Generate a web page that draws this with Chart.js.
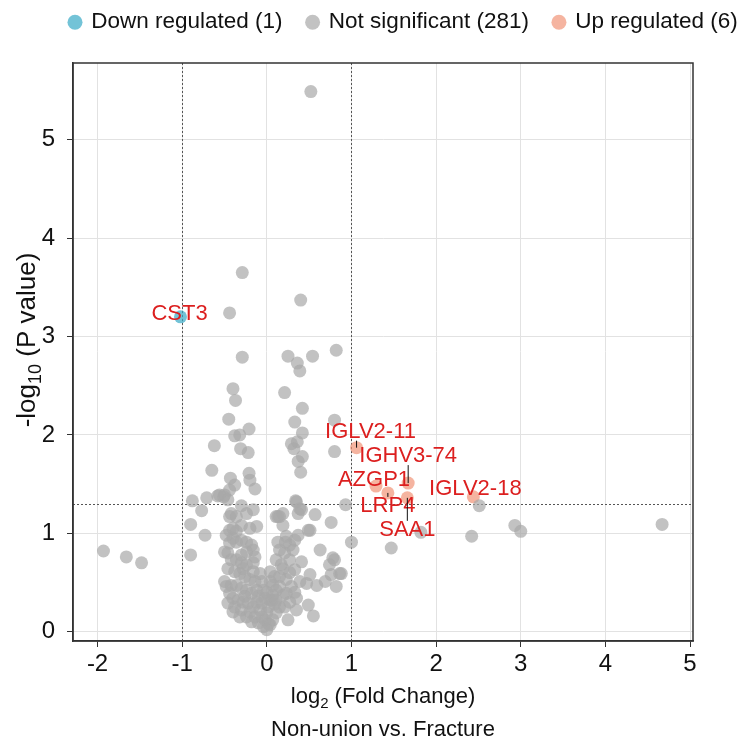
<!DOCTYPE html>
<html>
<head>
<meta charset="utf-8">
<script src="https://cdn.jsdelivr.net/npm/chart.js@4.4.1/dist/chart.umd.min.js"></script>
<style>
  html, body { margin: 0; padding: 0; background: #fff; }
</style>
</head>
<body>
<canvas id="volcano" width="741" height="746"></canvas>
<script>
// not significant proteins (log2 FC, -log10 p)
let nsX = [0.52,-0.29,-0.44,0.40,-0.29,0.25,0.36,0.54,0.39,0.82,
  -0.40,-0.37,0.21,0.42,-0.45,0.33,0.80,-0.21,0.42,-0.38,
  -0.32,-0.62,0.29,0.36,0.32,-0.31,-0.22,0.80,0.42,0.37,
  0.40,-0.65,-0.21,-0.20,-0.43,-0.38,-0.14,-0.44,-0.58,-0.51,
  -0.71,-0.88,-0.46,0.34,0.93,-0.30,-0.16,-0.77,-0.42,0.19,
  0.41,0.11,0.57,-0.90,-0.73,-0.90,-0.44,-0.24,-0.12,-0.40,
  0.15,0.19,0.37,0.76,1.00,0.23,0.37,0.51,0.63,0.78,
  0.86,0.74,0.76,0.69,0.82,0.51,0.47,0.59,0.49,0.55,
  0.35,0.25,0.41,0.33,0.39,0.23,0.35,0.21,0.15,0.11,
  0.06,0.04,0.15,0.21,0.27,0.11,0.17,0.22,0.27,0.33,
  -0.40,-0.44,-0.46,-0.42,-0.46,-0.36,-0.30,-0.24,-0.18,-0.16,
  -0.14,-0.16,-0.24,-0.30,-0.36,-0.30,-0.24,-0.38,-0.32,-0.26,
  -0.20,-0.48,-0.42,-0.36,-0.30,-0.24,-0.18,-0.40,-0.34,-0.28,
  -0.22,-0.16,-0.38,-0.30,-0.40,-0.32,-0.24,-0.14,-0.18,-0.10,
  -0.04,0.00,0.04,0.07,0.11,0.15,-0.02,-0.08,-0.06,-0.10,
  -0.12,-0.14,-0.16,0.00,0.02,0.04,0.07,-0.02,-0.04,-0.06,
  -0.08,0.04,0.07,0.09,0.15,0.19,0.11,0.19,0.23,0.29,
  0.31,0.13,-0.50,-0.48,-0.44,-0.36,-0.30,-0.20,-0.36,-0.46,
  -0.44,-0.50,-1.93,-1.66,-1.48,1.47,1.82,2.42,2.51,2.93,
  3.00,4.67,0.80,0.88,0.35,0.39,0.13,0.49,-0.56,-0.50,
  -0.20,-0.12,0.00,0.02,-0.06,0.09,-0.26,-0.28,0.27,0.33,0.27];
let nsY = [5.49,3.65,3.24,3.37,2.79,2.80,2.73,2.80,2.65,2.86,
  2.47,2.35,2.43,2.27,2.16,2.13,2.15,2.06,2.02,1.99,
  2.00,1.89,1.91,1.93,1.86,1.86,1.82,1.83,1.78,1.73,
  1.62,1.64,1.61,1.54,1.56,1.49,1.45,1.44,1.38,1.37,
  1.36,1.33,1.34,1.33,1.29,1.28,1.24,1.23,1.20,1.20,
  1.24,1.17,1.19,1.09,0.98,0.78,1.17,1.20,1.07,1.05,
  1.17,1.08,1.20,1.11,0.91,0.97,0.98,1.03,0.83,0.75,
  0.59,0.68,0.58,0.51,0.46,0.58,0.49,0.47,0.27,0.16,
  0.22,0.12,0.71,0.63,0.51,0.39,0.34,0.25,0.56,0.42,
  0.32,0.61,0.83,0.80,0.73,0.73,0.68,0.91,0.88,0.93,
  0.95,0.90,0.80,0.73,0.64,0.91,0.93,0.91,0.88,0.83,
  0.76,0.70,0.81,0.78,0.73,0.70,0.68,0.61,0.59,0.56,
  0.53,0.46,0.47,0.47,0.44,0.42,0.39,0.34,0.32,0.30,
  0.29,0.25,0.25,0.22,0.20,0.15,0.15,0.15,0.10,0.09,
  0.05,0.02,0.07,0.12,0.19,0.25,0.12,0.22,0.29,0.36,
  0.42,0.51,0.61,0.19,0.25,0.32,0.37,0.34,0.42,0.51,
  0.59,0.51,0.47,0.56,0.46,0.37,0.32,0.64,0.53,0.46,
  0.83,0.91,0.81,0.98,1.03,1.02,1.08,1.05,1.17,0.29,
  0.39,0.51,0.82,0.76,0.70,0.85,1.01,0.97,1.28,1.08,
  1.02,1.09,0.73,0.59,1.32,1.25,1.17,1.03,1.39,1.39,
  0.20,0.30,0.40,0.08,0.15,0.28,0.36,0.64,0.60,0.40,0.30];

let downX = [-1.02];
let downY = [3.20];
let downGenes = ['CST3'];

let upX = [1.06, 1.67, 1.29, 1.43, 1.66, 2.44];
let upY = [1.87, 1.51, 1.48, 1.41, 1.36, 1.37];
let upGenes = ['IGLV2-11', 'IGHV3-74', 'AZGP1', 'LRP4', 'SAA1', 'IGLV2-18'];

let groupNames = ['Down regulated', 'Not significant', 'Up regulated'];
let groupCounts = [1, 281, 6];

let xTicks = [-2, -1, 0, 1, 2, 3, 4, 5];
let yTicks = [0, 1, 2, 3, 4, 5];

let fcCut = 1;      // |log2 FC| threshold
let pCut = 1.301;   // -log10(0.05)

// label offsets from the point, in pixels
let labelOffsets = {
  'CST3': [-1, -3],
  'IGLV2-11': [14, -16],
  'IGHV3-74': [0, -27],
  'AZGP1': [-2, -6],
  'LRP4': [0, 13],
  'SAA1': [0, 32],
  'IGLV2-18': [2, -8]
};

let fontFamily = '"Liberation Sans", Arial, sans-serif';
Chart.defaults.font.family = fontFamily;
Chart.defaults.color = '#111';

function toPoints(xs, ys) {
  return xs.map((x, i) => ({ x: x, y: ys[i] }));
}

function drawSubText(ctx, parts, size, cx, cy) {
  // parts: [text, isSubscript]
  let big = size + 'px ' + fontFamily;
  let small = Math.round(size * 0.68) + 'px ' + fontFamily;
  let total = 0;
  parts.forEach(p => { ctx.font = p[1] ? small : big; total += ctx.measureText(p[0]).width; });
  let x = cx - total / 2;
  ctx.textBaseline = 'middle';
  ctx.textAlign = 'left';
  parts.forEach(p => {
    ctx.font = p[1] ? small : big;
    ctx.fillText(p[0], x, p[1] ? cy + size * 0.3 : cy);
    x += ctx.measureText(p[0]).width;
  });
}

// legend: fixed height, one row, starting near the left edge
let legendSpace = {
  id: 'legendSpace',
  beforeInit(chart) {
    let fit = chart.legend.fit;
    chart.legend.fit = function () {
      this.maxWidth = 900;
      fit.call(this);
      this.height = 63;
    };
  },
  afterLayout(chart) {
    chart.legend.left = 45;
    chart.legend.right = 900;
    chart.legend.top = -14;
  }
};

let volcanoDecor = {
  id: 'volcanoDecor',
  beforeDatasetsDraw(chart) {
    let { ctx, chartArea: a, scales: { x, y } } = chart;
    ctx.save();
    ctx.strokeStyle = '#555';
    ctx.lineWidth = 1;
    ctx.setLineDash([2, 2]);
    [-fcCut, fcCut].forEach(v => {
      let px = Math.round(x.getPixelForValue(v)) + 0.5;
      ctx.beginPath();
      ctx.moveTo(px, a.top);
      ctx.lineTo(px, a.bottom);
      ctx.stroke();
    });
    let py = Math.round(y.getPixelForValue(pCut)) + 0.5;
    ctx.beginPath();
    ctx.moveTo(a.left, py);
    ctx.lineTo(a.right, py);
    ctx.stroke();
    ctx.restore();
  },
  afterDraw(chart) {
    let { ctx, chartArea: a } = chart;
    ctx.save();

    // box frame
    ctx.strokeStyle = '#333';
    ctx.lineWidth = 1.5;
    ctx.strokeRect(a.left, a.top, a.right - a.left, a.bottom - a.top);

    // gene labels
    ctx.font = '22px ' + fontFamily;
    ctx.textAlign = 'center';
    ctx.textBaseline = 'middle';
    chart.data.datasets.forEach((ds, di) => {
      if (!ds.genes) return;
      let meta = chart.getDatasetMeta(di);
      meta.data.forEach((pt, i) => {
        let name = ds.genes[i];
        let off = labelOffsets[name] || [0, 0];
        let lx = pt.x + off[0], ly = pt.y + off[1];
        // leader segment from point to label edge
        if (Math.abs(off[1]) > 10) {
          let edge = off[1] < 0 ? ly + 9 : ly - 9;
          ctx.strokeStyle = '#111';
          ctx.lineWidth = 1;
          ctx.beginPath();
          ctx.moveTo(pt.x, pt.y);
          ctx.lineTo(pt.x, edge);
          ctx.stroke();
        }
        ctx.fillStyle = '#dc1f1f';
        ctx.fillText(name, lx, ly);
      });
    });

    // axis titles
    ctx.fillStyle = '#111';
    let cx = (a.left + a.right) / 2;
    drawSubText(ctx, [['log', false], ['2', true], [' (Fold Change)', false]], 22, cx, 697);
    drawSubText(ctx, [['Non-union vs. Fracture', false]], 22, cx, 730);

    ctx.translate(28, 340);
    ctx.rotate(-Math.PI / 2);
    drawSubText(ctx, [['-log', false], ['10', true], [' (P value)', false]], 26, 0, 0);
    ctx.restore();
  }
};

let canvas = document.getElementById('volcano');

let chart = new Chart(canvas.getContext('2d'), {
  type: 'scatter',
  data: {
    datasets: [
      {
        label: groupNames[0] + ' (' + groupCounts[0] + ')',
        data: toPoints(downX, downY),
        genes: downGenes,
        backgroundColor: 'rgba(55,169,198,0.7)',
        order: 0
      },
      {
        label: groupNames[1] + ' (' + groupCounts[1] + ')',
        data: toPoints(nsX, nsY),
        backgroundColor: 'rgba(168,168,168,0.7)',
        order: 1
      },
      {
        label: groupNames[2] + ' (' + groupCounts[2] + ')',
        data: toPoints(upX, upY),
        genes: upGenes,
        backgroundColor: 'rgba(241,148,119,0.7)',
        order: 2
      }
    ]
  },
  options: {
    responsive: false,
    animation: false,
    layout: { padding: { left: 0, right: 48, top: 0, bottom: 0 } },
    elements: {
      point: { radius: 6.5, hoverRadius: 6.5, borderWidth: 0, pointStyle: 'circle' }
    },
    plugins: {
      tooltip: { enabled: false },
      legend: {
        position: 'top',
        align: 'start',
        labels: {
          usePointStyle: true,
          boxWidth: 10,
          boxHeight: 10.6,
          padding: 25,
          font: { size: 22.5 },
          color: '#111'
        }
      }
    },
    scales: {
      x: {
        type: 'linear',
        min: -2.29,
        max: 5.035,
        afterBuildTicks(scale) { scale.ticks = xTicks.map(v => ({ value: v })); },
        afterFit(scale) { scale.height = 105; },
        ticks: { font: { size: 24 }, color: '#111', padding: 3 },
        grid: { color: '#e2e2e2', tickColor: '#333', tickLength: 6, lineWidth: 1 },
        border: { color: '#333', width: 1.5 }
      },
      y: {
        type: 'linear',
        min: -0.095,
        max: 5.78,
        afterBuildTicks(scale) { scale.ticks = yTicks.map(v => ({ value: v })); },
        afterFit(scale) { scale.width = 73; },
        ticks: { font: { size: 24 }, color: '#111', padding: 12 },
        grid: { color: '#e2e2e2', tickColor: '#333', tickLength: 6, lineWidth: 1 },
        border: { color: '#333', width: 1.5 }
      }
    }
  },
  plugins: [legendSpace, volcanoDecor]
});
</script>
</body>
</html>
